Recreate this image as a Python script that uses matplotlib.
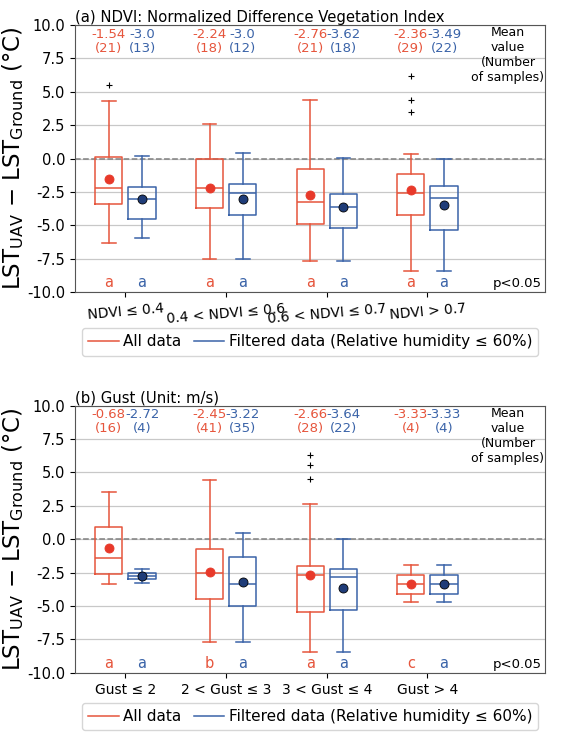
import matplotlib
matplotlib.use('Agg')
import matplotlib.pyplot as plt
from matplotlib.lines import Line2D

plt.rcParams['font.family'] = ['DejaVu Sans']
plt.rcParams['axes.unicode_minus'] = False

# (a) NDVI
ndvi_labels = ['NDVI ≤ 0.4', '0.4 < NDVI ≤ 0.6', '0.6 < NDVI ≤ 0.7', 'NDVI > 0.7']
ndvi_all_whislo = [-6.34, -7.54, -7.7, -8.44]
ndvi_all_q1 = [-3.4, -3.7, -4.9, -4.2]
ndvi_all_med = [-2.2, -2.2, -3.25, -2.6]
ndvi_all_q3 = [0.1, -0.05, -0.8, -1.17]
ndvi_all_whishi = [4.34, 2.6, 4.4, 0.33]
ndvi_all_mean = [-1.54, -2.24, -2.76, -2.36]
ndvi_all_n = [21, 18, 21, 29]
ndvi_all_fliers = [[5.47], [], [], [6.2, 4.4, 3.47]]
ndvi_all_letters = ['a', 'a', 'a', 'a']

ndvi_flt_whislo = [-5.97, -7.54, -7.7, -8.44]
ndvi_flt_q1 = [-4.52, -4.22, -5.2, -5.34]
ndvi_flt_med = [-3.02, -2.57, -3.6, -2.92]
ndvi_flt_q3 = [-2.15, -1.9, -2.65, -2.05]
ndvi_flt_whishi = [0.22, 0.42, 0.05, 0.0]
ndvi_flt_mean = [-3.0, -3.0, -3.62, -3.49]
ndvi_flt_n = [13, 12, 18, 22]
ndvi_flt_fliers = [[], [], [], []]
ndvi_flt_letters = ['a', 'a', 'a', 'a']

# (b) Gust
gust_labels = ['Gust ≤ 2', '2 < Gust ≤ 3', '3 < Gust ≤ 4', 'Gust > 4']
gust_all_whislo = [-3.35, -7.7, -8.44, -4.72]
gust_all_q1 = [-2.62, -4.5, -5.45, -4.07]
gust_all_med = [-1.38, -2.5, -2.7, -3.37]
gust_all_q3 = [0.92, -0.75, -2.02, -2.7]
gust_all_whishi = [3.52, 4.44, 2.62, -1.95]
gust_all_mean = [-0.68, -2.45, -2.66, -3.33]
gust_all_n = [16, 41, 28, 4]
gust_all_fliers = [[], [], [6.3, 5.57, 4.49], []]
gust_all_letters = ['a', 'b', 'a', 'c']

gust_flt_whislo = [-3.3, -7.7, -8.44, -4.72]
gust_flt_q1 = [-3.0, -4.97, -5.32, -4.07]
gust_flt_med = [-2.77, -3.37, -2.85, -3.37]
gust_flt_q3 = [-2.5, -1.32, -2.25, -2.7]
gust_flt_whishi = [-2.22, 0.47, 0.0, -1.95]
gust_flt_mean = [-2.72, -3.22, -3.64, -3.33]
gust_flt_n = [4, 35, 22, 4]
gust_flt_fliers = [[], [], [], []]
gust_flt_letters = ['a', 'a', 'a', 'a']

red = '#e6553c'
red_dot = '#e8392a'
blue = '#3a63a8'
blue_dot = '#1f3c78'


def make_stats(whislo, q1, med, q3, whishi, mean, fliers):
    stats = []
    for i in range(len(med)):
        stats.append(dict(whislo=whislo[i], q1=q1[i], med=med[i], q3=q3[i],
                          whishi=whishi[i], mean=mean[i], fliers=fliers[i]))
    return stats


def draw_boxes(ax, stats, positions, color, dotcolor):
    ax.bxp(stats, positions=positions, widths=0.27, showmeans=True,
           boxprops=dict(color=color, linewidth=1.1),
           whiskerprops=dict(color=color, linewidth=1.1),
           capprops=dict(color=color, linewidth=1.1),
           medianprops=dict(color=color, linewidth=1.1),
           meanprops=dict(marker='o', markerfacecolor=dotcolor,
                          markeredgecolor=dotcolor if dotcolor == red_dot else 'black',
                          markersize=6.5, markeredgewidth=0.6),
           flierprops=dict(marker='+', markeredgecolor='black', markersize=5,
                           markeredgewidth=0.8),
           manage_ticks=False)


def panel(ax, title, labels, all_stats, flt_stats, all_mean, flt_mean,
          all_n, flt_n, all_letters, flt_letters, rot, leg_y):
    x = [1, 2, 3, 4]
    pos_all = [v - 0.165 for v in x]
    pos_flt = [v + 0.165 for v in x]
    ax.yaxis.grid(True, color='#c8c8c8', linewidth=0.9, zorder=0)
    ax.set_axisbelow(True)
    ax.axhline(0, color='gray', linestyle='--', linewidth=1.1, zorder=1)
    draw_boxes(ax, all_stats, pos_all, red, red_dot)
    draw_boxes(ax, flt_stats, pos_flt, blue, blue_dot)

    for i in range(4):
        ax.text(pos_all[i], 9.3, f'{all_mean[i]}', color=red, ha='center',
                va='center', fontsize=9.5)
        ax.text(pos_flt[i], 9.3, f'{flt_mean[i]}', color=blue, ha='center',
                va='center', fontsize=9.5)
        ax.text(pos_all[i], 8.25, f'({all_n[i]})', color=red, ha='center',
                va='center', fontsize=9.5)
        ax.text(pos_flt[i], 8.25, f'({flt_n[i]})', color=blue, ha='center',
                va='center', fontsize=9.5)
        ax.text(pos_all[i], -9.3, all_letters[i], color=red, ha='center',
                va='center', fontsize=10.5)
        ax.text(pos_flt[i], -9.3, flt_letters[i], color=blue, ha='center',
                va='center', fontsize=10.5)

    ax.text(4.8, 9.9, 'Mean\nvalue\n(Number\nof samples)', ha='center',
            va='top', fontsize=9, linespacing=1.2)
    ax.text(5.14, -9.35, 'p<0.05', ha='right', va='center', fontsize=9.5)

    ax.set_xlim(0.5, 5.17)
    ax.set_ylim(-10, 10)
    ax.set_yticks([-10, -7.5, -5, -2.5, 0, 2.5, 5, 7.5, 10])
    ax.set_yticklabels(['-10.0', '-7.5', '-5.0', '-2.5', '0.0', '2.5',
                        '5.0', '7.5', '10.0'], fontsize=10.5)
    ax.set_xticks(x)
    ax.set_xticklabels(labels, fontsize=10, rotation=rot)
    ax.set_ylabel(r'LST$_{\mathrm{UAV}}$ $-$ LST$_{\mathrm{Ground}}$ (°C)',
                  fontsize=16.5, labelpad=1)
    ax.set_title(title, loc='left', fontsize=10.7, pad=2)
    for s in ax.spines.values():
        s.set_color('#555555')

    handles = [Line2D([], [], color=red, linewidth=1.1),
               Line2D([], [], color=blue, linewidth=1.1)]
    ax.legend(handles, ['All data', 'Filtered data (Relative humidity ≤ 60%)'],
              ncol=2, loc='upper center', bbox_to_anchor=(0.5, leg_y),
              fontsize=11, handlelength=2.0, handletextpad=0.3,
              columnspacing=0.8, borderpad=0.4)


fig = plt.figure(figsize=(5.65, 7.34), dpi=100)
ax1 = fig.add_axes([0.133, 0.602, 0.832, 0.364])
ax2 = fig.add_axes([0.133, 0.0834, 0.832, 0.364])

panel(ax1, '(a) NDVI: Normalized Difference Vegetation Index', ndvi_labels,
      make_stats(ndvi_all_whislo, ndvi_all_q1, ndvi_all_med, ndvi_all_q3,
                 ndvi_all_whishi, ndvi_all_mean, ndvi_all_fliers),
      make_stats(ndvi_flt_whislo, ndvi_flt_q1, ndvi_flt_med, ndvi_flt_q3,
                 ndvi_flt_whishi, ndvi_flt_mean, ndvi_flt_fliers),
      ndvi_all_mean, ndvi_flt_mean, ndvi_all_n, ndvi_flt_n,
      ndvi_all_letters, ndvi_flt_letters, 5, -0.107)

panel(ax2, '(b) Gust (Unit: m/s)', gust_labels,
      make_stats(gust_all_whislo, gust_all_q1, gust_all_med, gust_all_q3,
                 gust_all_whishi, gust_all_mean, gust_all_fliers),
      make_stats(gust_flt_whislo, gust_flt_q1, gust_flt_med, gust_flt_q3,
                 gust_flt_whishi, gust_flt_mean, gust_flt_fliers),
      gust_all_mean, gust_flt_mean, gust_all_n, gust_flt_n,
      gust_all_letters, gust_flt_letters, 0, -0.085)

fig.savefig('out.png', dpi=100)
